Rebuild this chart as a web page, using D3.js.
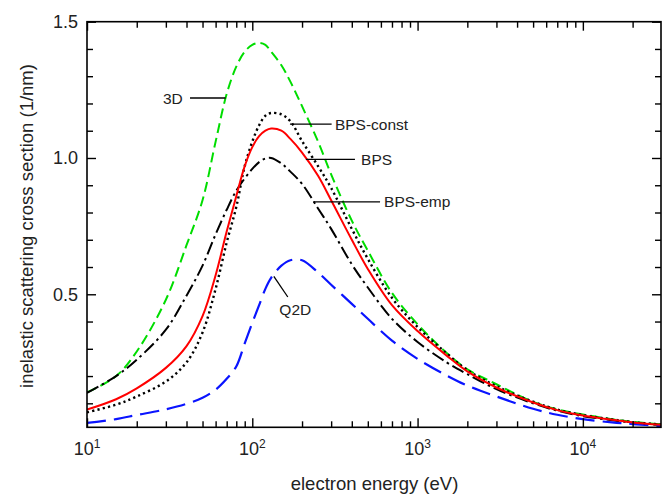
<!DOCTYPE html>
<html>
<head>
<meta charset="utf-8">
<script src="https://cdn.jsdelivr.net/npm/d3@7"></script>
<style>
  html, body { margin: 0; padding: 0; background: #fff; }
  svg { display: block; font-family: "Liberation Sans", Arial, sans-serif; }
</style>
</head>
<body>
<svg id="chart" width="666" height="494"></svg>
<script>
// ---------------- data ----------------
const energies = [10, 15, 20, 30, 40, 50, 60, 70, 80, 90, 100, 110, 120, 130, 150, 170, 200, 250, 300, 400, 500, 700, 1000, 1500, 2000, 3000, 5000, 7000, 10000, 15000, 20000, 30000];

const series3D      = [0.14, 0.20, 0.29, 0.48, 0.68, 0.845, 1.06, 1.235, 1.335, 1.39, 1.415, 1.422, 1.415, 1.39, 1.34, 1.28, 1.19, 1.06, 0.94, 0.77, 0.66, 0.505, 0.39, 0.285, 0.225, 0.17, 0.105, 0.078, 0.059, 0.042, 0.032, 0.023];
const seriesConst   = [0.067, 0.095, 0.125, 0.18, 0.25, 0.36, 0.52, 0.69, 0.82, 0.97, 1.06, 1.12, 1.155, 1.165, 1.16, 1.135, 1.062, 0.97, 0.89, 0.74, 0.63, 0.487, 0.38, 0.283, 0.222, 0.163, 0.106, 0.077, 0.057, 0.041, 0.031, 0.022];
const seriesBPS     = [0.077, 0.115, 0.155, 0.23, 0.31, 0.42, 0.57, 0.73, 0.86, 0.97, 1.04, 1.08, 1.10, 1.108, 1.10, 1.07, 1.02, 0.935, 0.845, 0.70, 0.593, 0.46, 0.365, 0.275, 0.217, 0.158, 0.103, 0.075, 0.055, 0.040, 0.030, 0.021];
const seriesEmp     = [0.138, 0.20, 0.26, 0.37, 0.495, 0.605, 0.72, 0.81, 0.88, 0.925, 0.96, 0.985, 0.998, 1.0, 0.98, 0.95, 0.905, 0.815, 0.74, 0.61, 0.525, 0.41, 0.325, 0.25, 0.207, 0.152, 0.10, 0.073, 0.053, 0.038, 0.029, 0.020];
const seriesQ2D     = [0.028, 0.042, 0.057, 0.078, 0.098, 0.12, 0.15, 0.19, 0.235, 0.32, 0.395, 0.46, 0.52, 0.56, 0.605, 0.625, 0.625, 0.58, 0.535, 0.465, 0.41, 0.33, 0.263, 0.202, 0.165, 0.125, 0.08, 0.058, 0.042, 0.030, 0.024, 0.016];

const yTickMajor = [0.5, 1.0, 1.5];
const yTickLabels = ["0.5", "1.0", "1.5"];
const yTickMinor = [0.1, 0.2, 0.3, 0.4, 0.6, 0.7, 0.8, 0.9, 1.1, 1.2, 1.3, 1.4];
const xTickMajor = [10, 100, 1000, 10000];
const xTickExponents = ["1", "2", "3", "4"];

const xTitle = "electron energy (eV)";
const yTitle = "inelastic scattering cross section (1/nm)";

// annotations in data units: leader line from (e1,v1) to (e2,v2), text at (te,tv)
const annotations = [
  { text: "3D",        e1: 42,  v1: 1.22,  e2: 69,  v2: 1.22,  te: 38,  tv: 1.22,  anchor: "end" },
  { text: "BPS-const", e1: 169, v1: 1.124, e2: 302, v2: 1.124, te: 316, tv: 1.124, anchor: "start" },
  { text: "BPS",       e1: 211, v1: 0.995, e2: 418, v2: 0.995, te: 455, tv: 0.995, anchor: "start" },
  { text: "BPS-emp",   e1: 234, v1: 0.839, e2: 593, v2: 0.839, te: 627, tv: 0.839, anchor: "start" },
  { text: "Q2D",       e1: 135, v1: 0.566, e2: 164, v2: 0.49,  te: 182, tv: 0.445, anchor: "middle" }
];

// ---------------- layout ----------------
const svg = d3.select("#chart");
const m = { left: 87, top: 21.7, right: 661, bottom: 427.3 };

const x = d3.scaleLog().domain([10, 29700]).range([m.left, m.right]);
const y = d3.scaleLinear().domain([0.012, 1.5]).range([m.bottom, m.top]);

svg.append("defs").append("clipPath").attr("id", "clip")
  .append("rect").attr("x", m.left).attr("y", m.top)
  .attr("width", m.right - m.left).attr("height", m.bottom - m.top);

// ---------------- curves ----------------
const seriesList = [
  { values: series3D,    color: "#00dd00", dash: "10,5",        width: 2 },
  { values: seriesEmp,   color: "#000000", dash: "13,4,2.5,4",  width: 2 },
  { values: seriesQ2D,   color: "#0a14ff", dash: "19,8",        width: 2.2 },
  { values: seriesConst, color: "#000000", dash: "2.2,3.2",     width: 2.4 },
  { values: seriesBPS,   color: "#ff0000", dash: null,          width: 2 }
];

const line = d3.line()
  .x(d => x(d[0]))
  .y(d => y(d[1]))
  .curve(d3.curveCatmullRom.alpha(0.5));

const gCurves = svg.append("g").attr("clip-path", "url(#clip)");
seriesList.forEach(s => {
  gCurves.append("path")
    .datum(energies.map((e, i) => [e, s.values[i]]))
    .attr("d", line)
    .attr("fill", "none")
    .attr("stroke", s.color)
    .attr("stroke-width", s.width)
    .attr("stroke-dasharray", s.dash);
});

// ---------------- axes ----------------
const minorX = [];
for (let dec = 10; dec < 30000; dec *= 10) {
  for (let k = 2; k <= 9; k++) { const v = dec * k; if (v <= 29700) minorX.push(v); }
}

function addAxis(gen, transform) {
  const g = svg.append("g").attr("transform", transform).call(gen);
  g.select(".domain").remove();
  g.selectAll(".tick line").attr("stroke", "#000").attr("stroke-width", 1.4);
  return g;
}

// bottom
addAxis(d3.axisBottom(x).tickValues(xTickMajor).tickSize(-9).tickFormat(""), `translate(0,${m.bottom})`);
addAxis(d3.axisBottom(x).tickValues(minorX).tickSize(-6).tickFormat(""), `translate(0,${m.bottom})`);
// top
addAxis(d3.axisTop(x).tickValues(xTickMajor).tickSize(-9).tickFormat(""), `translate(0,${m.top})`);
addAxis(d3.axisTop(x).tickValues(minorX).tickSize(-6).tickFormat(""), `translate(0,${m.top})`);
// left
addAxis(d3.axisLeft(y).tickValues(yTickMajor).tickSize(-9).tickFormat(""), `translate(${m.left},0)`);
addAxis(d3.axisLeft(y).tickValues(yTickMinor).tickSize(-6).tickFormat(""), `translate(${m.left},0)`);
// right
addAxis(d3.axisRight(y).tickValues(yTickMajor).tickSize(-9).tickFormat(""), `translate(${m.right},0)`);
addAxis(d3.axisRight(y).tickValues(yTickMinor).tickSize(-6).tickFormat(""), `translate(${m.right},0)`);

// frame
svg.append("rect")
  .attr("x", m.left).attr("y", m.top)
  .attr("width", m.right - m.left).attr("height", m.bottom - m.top)
  .attr("fill", "none").attr("stroke", "#000").attr("stroke-width", 1.6);

// y tick labels
svg.append("g").selectAll("text").data(yTickMajor).join("text")
  .attr("x", m.left - 9)
  .attr("y", d => y(d))
  .attr("dy", "0.36em")
  .attr("text-anchor", "end")
  .attr("font-size", 18)
  .attr("fill", "#222")
  .text((d, i) => yTickLabels[i]);

// x tick labels (10 with superscript exponent)
const xl = svg.append("g").selectAll("text").data(xTickMajor).join("text")
  .attr("x", d => x(d))
  .attr("y", 455)
  .attr("text-anchor", "middle")
  .attr("font-size", 18)
  .attr("fill", "#222");
xl.append("tspan").text("10");
xl.append("tspan").attr("font-size", 12).attr("dy", -7).text((d, i) => xTickExponents[i]);

// axis titles
svg.append("text")
  .attr("x", (m.left + m.right) / 2 + 0.5)
  .attr("y", 490)
  .attr("text-anchor", "middle")
  .attr("font-size", 18.5)
  .attr("fill", "#222")
  .text(xTitle);

svg.append("text")
  .attr("transform", `translate(33,226) rotate(-90)`)
  .attr("text-anchor", "middle")
  .attr("font-size", 18.5)
  .attr("fill", "#222")
  .text(yTitle);

// annotations
const ga = svg.append("g");
annotations.forEach(a => {
  ga.append("line")
    .attr("x1", x(a.e1)).attr("y1", y(a.v1))
    .attr("x2", x(a.e2)).attr("y2", y(a.v2))
    .attr("stroke", "#000").attr("stroke-width", 1.3);
  ga.append("text")
    .attr("x", x(a.te)).attr("y", y(a.tv))
    .attr("dy", "0.36em")
    .attr("text-anchor", a.anchor)
    .attr("font-size", 15.5)
    .attr("fill", "#222")
    .text(a.text);
});
</script>
</body>
</html>
